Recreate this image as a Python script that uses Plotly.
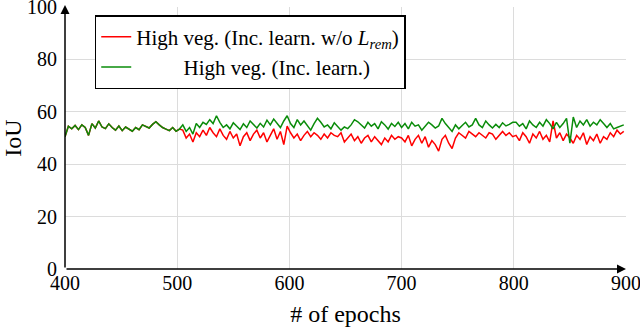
import plotly.graph_objects as go

# epochs, sampled every 3
epochs = list(range(400, 900, 3))

# before ~505 both runs are identical (red hidden under green)
shared_early = [50.5, 54.5, 53.5, 54.8, 53.2, 55.0, 54.0, 51.0, 55.5, 53.8,
                56.5, 54.2, 53.6, 55.4, 54.0, 53.0, 54.6, 52.8, 54.2, 53.4,
                52.6, 54.0, 53.2, 55.0, 54.4, 53.8, 55.2, 56.2, 55.0, 54.0,
                53.4, 52.8, 54.0, 52.6, 53.4]

green_late = [55.0, 52.5, 54.0, 51.5, 55.5, 54.0, 56.0, 55.2, 57.0, 55.5,
              58.5, 56.0, 54.0, 55.0, 53.5, 55.8, 54.6, 53.2, 55.4, 54.0,
              56.5, 55.0, 53.8, 55.6, 54.2, 56.8, 55.0, 57.2, 55.5, 54.0,
              56.5, 58.5,
              55.5, 54.0, 57.0, 55.0, 56.5, 54.5, 53.0, 55.5, 57.5, 56.0,
              54.2, 55.0, 53.5, 55.8, 54.5, 53.0, 54.2, 53.6, 55.0, 57.0,
              56.2, 55.0, 53.8, 56.0, 54.5, 55.5, 53.5, 56.2, 55.0, 53.4,
              55.6, 54.4, 56.0,
              54.0, 55.5, 53.5, 56.0, 54.5, 55.0, 53.0, 54.5, 56.0, 55.0,
              53.8, 54.6, 57.5, 55.5, 54.0, 52.5, 55.0, 53.5, 54.8, 56.0,
              54.2, 55.0, 57.5, 55.0, 54.0, 56.5, 55.0, 53.8, 55.2, 54.0,
              55.8, 54.6, 55.2, 56.0,
              56.0, 54.5, 55.5, 53.5, 56.5, 55.0, 54.0, 56.0, 54.5, 57.0,
              55.5, 53.5, 56.0, 54.0, 55.5, 57.5, 48.0, 58.0, 54.0, 56.5,
              55.0, 57.0, 54.5, 56.0, 55.0, 57.0, 55.5, 54.0, 55.5, 53.5,
              54.0, 54.5, 55.0]

red_late = [53.0, 50.0, 51.5, 48.5, 52.0, 50.5, 53.0, 51.0, 54.0, 52.0,
            50.5, 53.5, 51.0, 49.5, 52.5, 50.0, 51.5, 47.0, 50.5, 52.0,
            49.0, 51.5, 53.0, 50.0, 52.0, 48.5, 51.0, 53.5, 49.5, 52.5,
            47.5, 54.5,
            52.0, 50.0, 51.5, 49.0, 51.0, 52.5, 50.5, 52.0, 51.0, 49.5,
            51.5, 50.0, 52.0, 51.0, 50.5, 52.0, 48.5, 50.0, 51.5, 49.0,
            50.5, 48.0, 50.0, 51.0, 48.5, 50.5, 49.0, 47.5, 50.0, 48.5,
            51.0, 49.5, 50.5,
            50.0, 48.5, 51.0, 47.0, 49.5, 51.0, 48.0, 50.5, 46.5, 49.0,
            47.5, 45.0, 49.5, 51.0, 48.0, 46.0, 50.0, 52.0, 51.0, 50.0,
            52.5, 51.5, 50.5, 52.0, 51.0, 50.0, 52.0, 51.5, 49.5, 51.0,
            52.5, 51.0, 52.0, 50.5,
            51.0, 49.0, 52.0, 50.5, 48.0, 51.5, 50.0, 52.5, 49.5, 51.0,
            48.5, 56.5, 50.0, 52.0, 49.0, 51.5, 50.0, 48.0, 51.0, 49.5,
            52.0, 47.5, 50.5, 49.0, 51.5, 48.0, 50.5, 49.5, 52.0, 50.5,
            53.0, 51.5, 52.5]

green = shared_early + green_late
red = shared_early + red_late

x_ticks = [400, 500, 600, 700, 800, 900]
y_ticks = [0, 20, 40, 60, 80, 100]

FONT = "Liberation Serif"

fig = go.Figure()
fig.add_trace(go.Scatter(
    x=epochs, y=red, mode="lines", line=dict(color="#ff0000", width=1.5),
    name="High veg. (Inc. learn. w/o <i>L</i><sub><i>rem</i></sub>)"))
fig.add_trace(go.Scatter(
    x=epochs, y=green, mode="lines", line=dict(color="#0a8c0a", width=1.5),
    name="&nbsp;" * 9 + "High veg. (Inc. learn.)"))

# arrow-style axes
fig.add_annotation(x=900, y=0, ax=400, ay=0, xref="x", yref="y",
                   axref="x", ayref="y", text="", showarrow=True,
                   arrowhead=2, arrowsize=1.2, arrowwidth=1.5, arrowcolor="black")
fig.add_annotation(x=400, y=100.8, ax=400, ay=0, xref="x", yref="y",
                   axref="x", ayref="y", text="", showarrow=True,
                   arrowhead=2, arrowsize=1.2, arrowwidth=1.5, arrowcolor="black")

fig.update_layout(
    width=640, height=327,
    margin=dict(l=65, r=14, t=7, b=58, autoexpand=False),
    paper_bgcolor="white", plot_bgcolor="white",
    font=dict(family=FONT, size=20, color="black"),
    showlegend=True,
    legend=dict(x=0.053, y=0.969, xanchor="left", yanchor="top",
                bgcolor="white", bordercolor="black", borderwidth=1.5,
                font=dict(family=FONT, size=21), tracegroupgap=0,
                itemwidth=30),
    xaxis=dict(range=[400, 900], tickvals=x_ticks, showgrid=True,
               gridcolor="#dcdcdc", gridwidth=1, zeroline=False,
               showline=False, ticks="", automargin=False,
               ticklabeloverflow="allow", ticklabelstandoff=0,
               title=dict(text="# of epochs", standoff=12)),
    yaxis=dict(range=[0, 100], tickvals=y_ticks, showgrid=True,
               gridcolor="#dcdcdc", gridwidth=1, zeroline=False,
               showline=False, ticks="", automargin=False,
               ticklabeloverflow="allow", ticklabelstandoff=7,
               title=dict(text="IoU", standoff=20)),
)

# drop the default 8px body margin so the figure sits at the window corner
fig.write_html("out.html", config={"displayModeBar": False},
               post_script="document.body.style.margin='0';")
